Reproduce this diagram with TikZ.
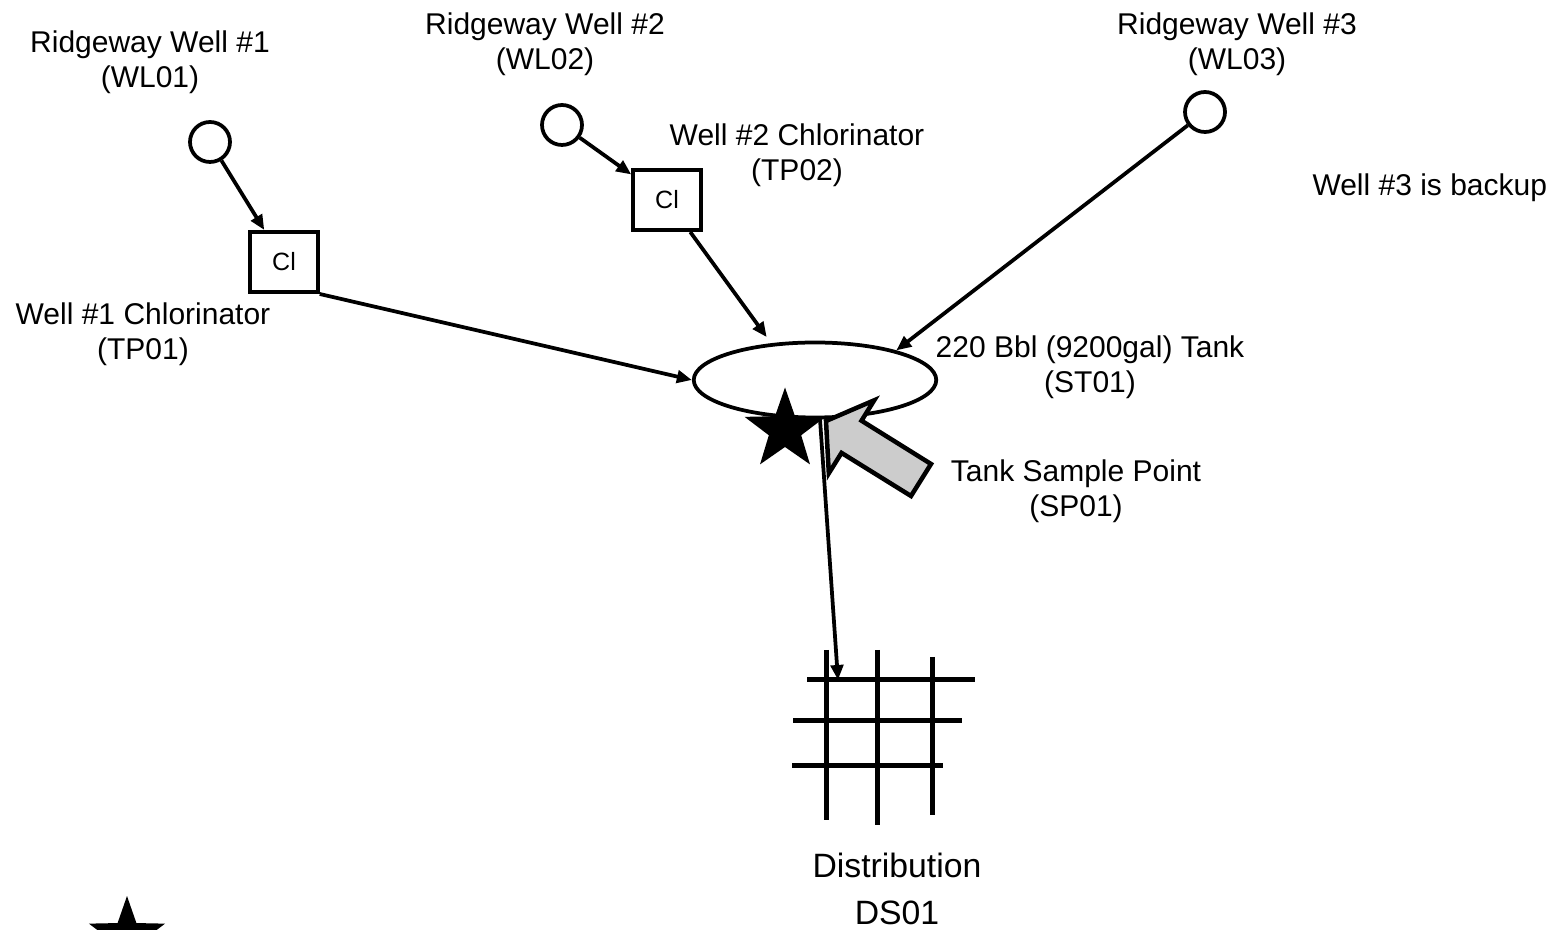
\documentclass[tikz,border=0pt]{standalone}
\usepackage{fontspec}
\setmainfont{Liberation Sans}
\usetikzlibrary{arrows.meta,shapes.geometric}

\tikzset{
  well/.style={circle, draw, line width=1.5pt, minimum size=16pt, inner sep=0pt},
  chlor/.style={draw, line width=1.6pt, minimum width=27pt, minimum height=24pt, inner sep=0pt, font=\fontsize{10}{12}\selectfont},
  tank/.style={ellipse, draw, line width=1.5pt, minimum width=97pt, minimum height=30pt, inner sep=0pt},
  lbl/.style={align=center, inner sep=0pt, font=\fontsize{12}{14}\selectfont},
  flow/.style={-{Triangle[length=6pt,width=5pt]}, line width=1.5pt},
  sample/.style={star, star points=5, star point ratio=2.5, fill=black, inner sep=0pt},
  gridline/.style={line width=2pt}
}

\begin{document}
\begin{tikzpicture}[x=0.4pt, y=-0.4pt]
  \useasboundingbox (0,0) rectangle (1564,930);

  % wells and chlorinators
  \node[well] (wl1) at (210,142) {};
  \node[well] (wl2) at (562,125) {};
  \node[well] (wl3) at (1205,112) {};
  \node[chlor] (tp1) at (284,262) {Cl};
  \node[chlor] (tp2) at (667,200) {Cl};
  \node[tank] (st1) at (815,380) {};

  \node[lbl] (wl1lbl) at (150,62) {Ridgeway Well \#1\\(WL01)};
  \node[lbl] (wl2lbl) at (545,44) {Ridgeway Well \#2\\(WL02)};
  \node[lbl] (wl3lbl) at (1237,44) {Ridgeway Well \#3\\(WL03)};
  \node[lbl] (tp1lbl) at (143,334) {Well \#1 Chlorinator\\(TP01)};
  \node[lbl] (tp2lbl) at (797,155) {Well \#2 Chlorinator\\(TP02)};
  \node[lbl] (st1lbl) at (1090,367) {220 Bbl (9200gal) Tank\\(ST01)};
  \node[lbl] (sp1lbl) at (1076,491) {Tank Sample Point\\(SP01)};
  \node[lbl, anchor=west] (backup) at (1312,188) {Well \#3 is backup};
  \node[lbl, font=\fontsize{13.5}{18.5}\selectfont] (ds1lbl) at (897,889) {Distribution\\DS01};

  % sample point
  \node[sample, minimum size=34pt] (sp1) at (785,430) {};
  \node[sample, minimum size=32pt] (legend) at (127,936) {};
  \draw[line width=1.8pt, fill=gray!40] (931,464) -- (861.5,420.7) -- (874.2,400.3) -- (826,421)
    -- (828.8,473.3) -- (841.5,452.9) -- (911,496) -- cycle;

  % distribution grid
  \foreach \xa/\xb/\y in {807/975/680, 793/962/720, 792/943/765}
    \draw[gridline] (\xa,\y) -- (\xb,\y);
  \foreach \x/\ya/\yb in {826/650/820, 877/650/825, 932/657/815}
    \draw[gridline] (\x,\ya) -- (\x,\yb);
  \coordinate (ds1) at (838,680);

  % flows
  \draw[flow] (wl1) -- (tp1);
  \draw[flow] (wl2) -- (tp2);
  \draw[flow] (tp1.south east) -- (st1.west);
  \draw[flow, shorten >=3pt] (tp2) -- (st1.140);
  \draw[flow] (wl3) -- (st1.20);
  \draw[flow] ([xshift=2pt]st1.south) -- (ds1);
\end{tikzpicture}
\end{document}
